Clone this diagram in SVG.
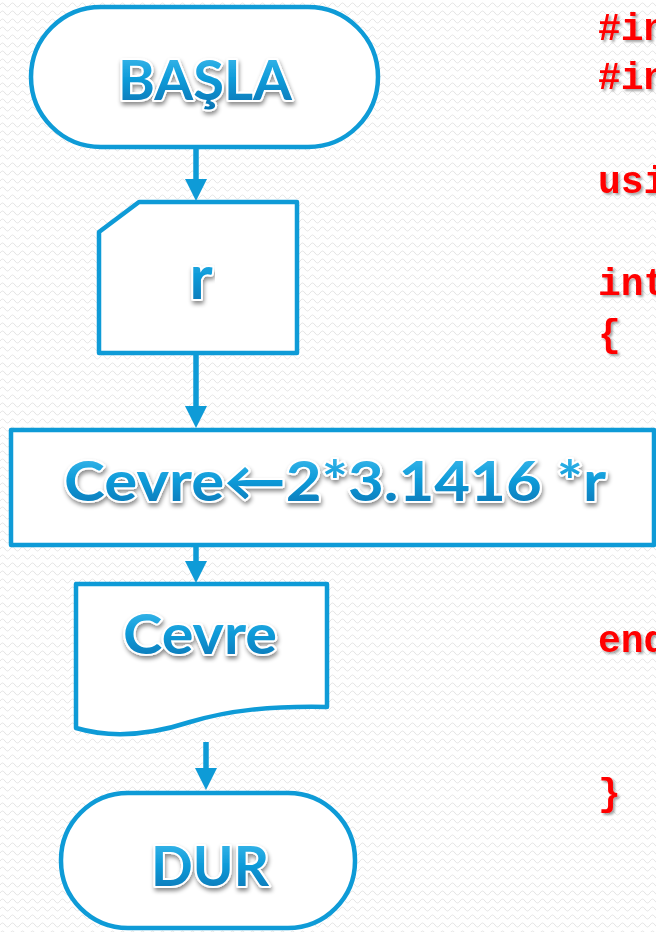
<svg xmlns="http://www.w3.org/2000/svg" width="656" height="932" viewBox="0 0 656 932">
<style>
.shape{fill:#ffffff;stroke:#0E9BD7;stroke-width:4.5;stroke-linejoin:round}
.conn{stroke:#0E9BD7;stroke-width:5.5;fill:none}
.lbl{font-family:Lato,"Open Sans","Liberation Sans",sans-serif;font-weight:700;font-size:55px;fill:url(#txtgrad);stroke:#ffffff;stroke-width:4;paint-order:stroke;stroke-linejoin:round;filter:url(#tshadow)}
.code{font-family:"Liberation Mono","Courier New",monospace;font-weight:700;font-size:38px;fill:#FF0000;filter:url(#cshadow)}
</style>
<defs>
<pattern id="bgpat" patternUnits="userSpaceOnUse" width="10" height="8">
<path d="M0,5 Q2.5,1 5,5 T10,5" fill="none" stroke="#e4e4e4" stroke-width="1"/>
</pattern>
<linearGradient id="txtgrad" x1="0" y1="0" x2="0" y2="1">
<stop offset="0" stop-color="#48C0F0"/>
<stop offset="0.5" stop-color="#0E9BD9"/>
<stop offset="1" stop-color="#0570B0"/>
</linearGradient>
<filter id="tshadow" x="-10%" y="-30%" width="120%" height="170%">
<feDropShadow dx="1" dy="3" stdDeviation="2" flood-color="#000000" flood-opacity="0.45"/>
</filter>
<filter id="cshadow" x="-10%" y="-30%" width="130%" height="170%">
<feDropShadow dx="2" dy="2" stdDeviation="1.2" flood-color="#000000" flood-opacity="0.35"/>
</filter>
<marker id="arr" markerUnits="userSpaceOnUse" markerWidth="22" markerHeight="22" refX="0" refY="11" orient="auto">
<path d="M0,0 L22,11 L0,22 z" fill="#0E9BD7"/>
</marker>
</defs>
<rect x="0" y="0" width="656" height="932" fill="#ffffff"/>
<rect x="0" y="0" width="656" height="932" fill="url(#bgpat)"/>

<g id="connectors">
<path class="conn" d="M196,149 V179" marker-end="url(#arr)"/>
<path class="conn" d="M196,355 V406" marker-end="url(#arr)"/>
<path class="conn" d="M196,547 V561" marker-end="url(#arr)"/>
<path class="conn" d="M206,742 V768" marker-end="url(#arr)"/>
</g>

<g id="start">
<rect class="shape" x="31" y="7" width="347" height="140" rx="70" ry="70"/>
<text class="lbl" x="205" y="100" text-anchor="middle" textLength="174" lengthAdjust="spacingAndGlyphs">BAŞLA</text>
</g>

<g id="input-r">
<path class="shape" d="M99,232 L139,202 L297,202 L297,353 L99,353 Z"/>
<text class="lbl" x="201" y="299" text-anchor="middle" style="font-size:62px">r</text>
</g>

<g id="process">
<rect class="shape" x="11" y="430" width="643" height="115"/>
<text class="lbl" x="64" y="501" textLength="542" lengthAdjust="spacingAndGlyphs">Cevre←2*3.1416 *r</text>
</g>

<g id="output">
<path class="shape" d="M76,584 L327,584 L327,707 C270,706 230,710 190,722 C150,735 110,738 76,728 Z"/>
<text class="lbl" x="200" y="654" text-anchor="middle" textLength="154" lengthAdjust="spacingAndGlyphs">Cevre</text>
</g>

<g id="end">
<rect class="shape" x="61" y="793" width="294" height="135" rx="67" ry="67"/>
<text class="lbl" x="210" y="886" text-anchor="middle" textLength="118" lengthAdjust="spacingAndGlyphs">DUR</text>
</g>

<g id="code">
<text class="code" x="598" y="40">#in</text>
<text class="code" x="598" y="89">#in</text>
<text class="code" x="598" y="193">usi</text>
<text class="code" x="598" y="295">int</text>
<text class="code" x="598" y="346">{</text>
<text class="code" x="598" y="652">end</text>
<text class="code" x="598" y="805">}</text>
</g>
</svg>
